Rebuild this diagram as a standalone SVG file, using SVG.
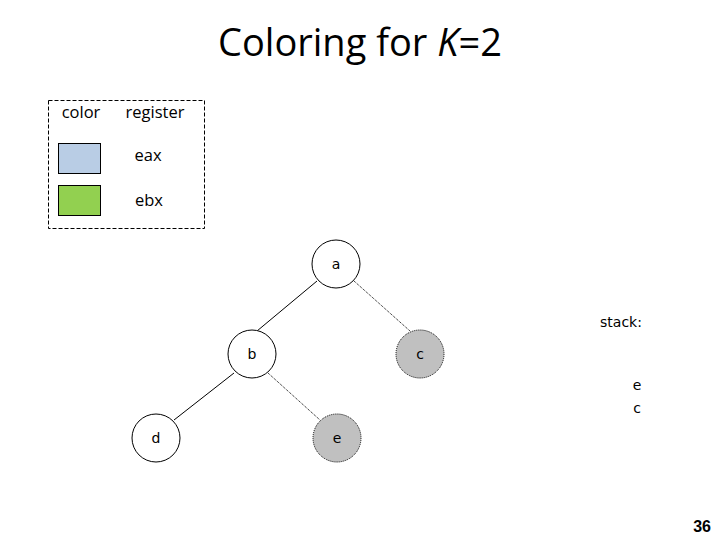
<svg xmlns="http://www.w3.org/2000/svg" width="720" height="540" viewBox="0 0 720 540">
<style>
.t{font-family:"Open Sans","Liberation Sans",sans-serif;fill:#000}
.n{font-family:"DejaVu Sans","Liberation Sans",sans-serif;font-size:14px;fill:#000;text-anchor:middle}
.white{fill:#fff;stroke:#000;stroke-width:1}
.gray{fill:#c0c0c0;stroke:#000;stroke-width:1;stroke-dasharray:1 1}
.solid{stroke:#000;stroke-width:1;fill:none}
.dot{stroke:#000;stroke-width:1;fill:none;stroke-dasharray:1 1}
</style>
<rect width="720" height="540" fill="#fff"/>
<text class="t" x="360" y="56" font-size="38" text-anchor="middle">Coloring for <tspan font-style="italic">K</tspan>=2</text>
<g id="legend">
<rect x="48.5" y="100.5" width="156" height="128" fill="none" stroke="#000" stroke-dasharray="4 2"/>
<text class="t" x="81" y="118" font-size="16.5" text-anchor="middle">color</text>
<text class="t" x="155" y="118" font-size="16.5" text-anchor="middle">register</text>
<rect x="58.5" y="143.5" width="42" height="30" fill="#b9cde5" stroke="#000"/>
<rect x="58.5" y="185.5" width="42" height="30" fill="#92d050" stroke="#000"/>
<text class="t" x="148" y="161" font-size="16.5" text-anchor="middle">eax</text>
<text class="t" x="149" y="206" font-size="16.5" text-anchor="middle">ebx</text>
</g>
<g id="edges">
<line class="solid" x1="317" y1="281" x2="257" y2="331"/>
<line class="dot" x1="354" y1="281" x2="410" y2="331"/>
<line class="solid" x1="234" y1="373" x2="174" y2="420"/>
<line class="dot" x1="268" y1="373" x2="320" y2="420"/>
</g>
<g id="node-a"><circle class="white" cx="336" cy="264" r="24"/><text class="n" x="336" y="269">a</text></g>
<g id="node-b"><circle class="white" cx="252" cy="354" r="24"/><text class="n" x="252" y="359">b</text></g>
<g id="node-c"><circle class="gray" cx="420" cy="354" r="24"/><text class="n" x="420" y="359">c</text></g>
<g id="node-d"><circle class="white" cx="156" cy="438" r="24"/><text class="n" x="156" y="443">d</text></g>
<g id="node-e"><circle class="gray" cx="337" cy="438" r="24"/><text class="n" x="337" y="443">e</text></g>
<g id="stack">
<text class="n" x="621" y="327" text-anchor="middle">stack:</text>
<text class="n" x="637" y="390">e</text>
<text class="n" x="637" y="413">c</text>
</g>
<text x="711" y="532" font-family="Liberation Sans, Arial, sans-serif" font-weight="bold" font-size="16" text-anchor="end">36</text>
</svg>
